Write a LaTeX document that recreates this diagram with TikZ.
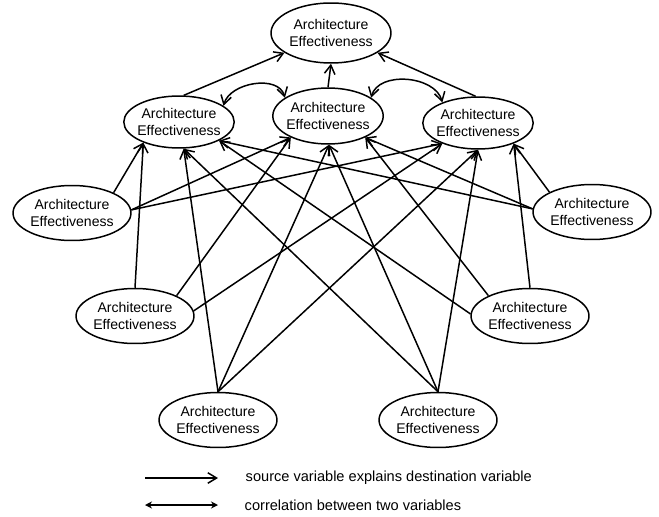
\documentclass[tikz,border=0pt]{standalone}
\usepackage{fontspec}
\setmainfont{Liberation Sans}
\usetikzlibrary{shapes.geometric,arrows.meta}

\tikzset{
  var/.style={ellipse, draw, inner sep=0pt, minimum width=2.36cm,
    minimum height=1.1cm, align=center, font=\fontsize{8}{10.2}\selectfont},
  midvar/.style={var, inner xsep=-1.5pt, minimum width=0pt, minimum height=1.04cm},
  legtext/.style={anchor=west, inner sep=0pt, font=\fontsize{8.3}{10}\selectfont},
}

\begin{document}
\begin{tikzpicture}[x=0.02cm, y=-0.02cm, line width=0.85pt,
    >={Straight Barb[length=5pt,width=6pt]}]
    \useasboundingbox (0,0) rectangle (659,517);

    % nodes
    \node[var, minimum width=2.4cm, minimum height=1.2cm] (T) at (331,33) {Architecture\\Effectiveness};

    \node[midvar] (A) at (179,122) {Architecture\\Effectiveness};
    \node[midvar, minimum height=1.12cm] (B) at (328,116) {Architecture\\Effectiveness};
    \node[midvar] (C) at (478,123) {Architecture\\Effectiveness};

    \node[var] (L1) at (72,213) {Architecture\\Effectiveness};
    \node[var] (R1) at (592,212) {Architecture\\Effectiveness};
    \node[var] (L2) at (135,316) {Architecture\\Effectiveness};
    \node[var] (R2) at (530,316) {Architecture\\Effectiveness};
    \node[var] (L3) at (218,420) {Architecture\\Effectiveness};
    \node[var] (R3) at (438,420) {Architecture\\Effectiveness};

    % upper level
    \draw[->] (A.80) -- (T.203);
    \draw[->] (B.north) -- (T.south);
    \draw[->] (C.95) -- (T.337);
    \draw[<->] (A.20) to[out=75,in=105] (B.157);
    \draw[<->] (B.23) to[out=75,in=105] (C.150);

    % left side
    \draw[->] (L1.26) -- (A.210);
    \draw[->] (L1.3) -- (B.210);
    \draw[->] (L1.3) -- (C.210);
    \draw[->] (L2.north) -- (A.210);
    \draw[->] (L2.26) -- (B.210);
    \draw[->] (L2.5) -- (C.210);

    % bottom
    \draw[->] (L3.north) -- (A.280);
    \draw[->] (L3.north) -- (B.272);
    \draw[->] (L3.north) -- (C.270);
    \draw[->] (R3.north) -- (A.280);
    \draw[->] (R3.north) -- (B.272);
    \draw[->] (R3.north) -- (C.270);

    % right side
    \draw[->] (R1.155) -- (C.330);
    \draw[->] (R1.177) -- (B.330);
    \draw[->] (R1.177) -- (A.335);
    \draw[->] (R2.north) -- (C.330);
    \draw[->] (R2.154) -- (B.330);
    \draw[->] (R2.178) -- (A.335);

    % legend
    \coordinate (k1a) at (145,478);
    \coordinate (k1b) at (218,478);
    \coordinate (k2a) at (145,505);
    \coordinate (k2b) at (218,505);
    \draw[->] (k1a) -- (k1b);
    \draw[{Stealth[length=4pt,width=4pt]}-{Stealth[length=4pt,width=4pt]}] (k2a) -- (k2b);
    \node[legtext] (explains) at (245,478) {source variable explains destination variable};
    \node[legtext] (correl) at (244,505) {correlation between two variables};
\end{tikzpicture}
\end{document}
